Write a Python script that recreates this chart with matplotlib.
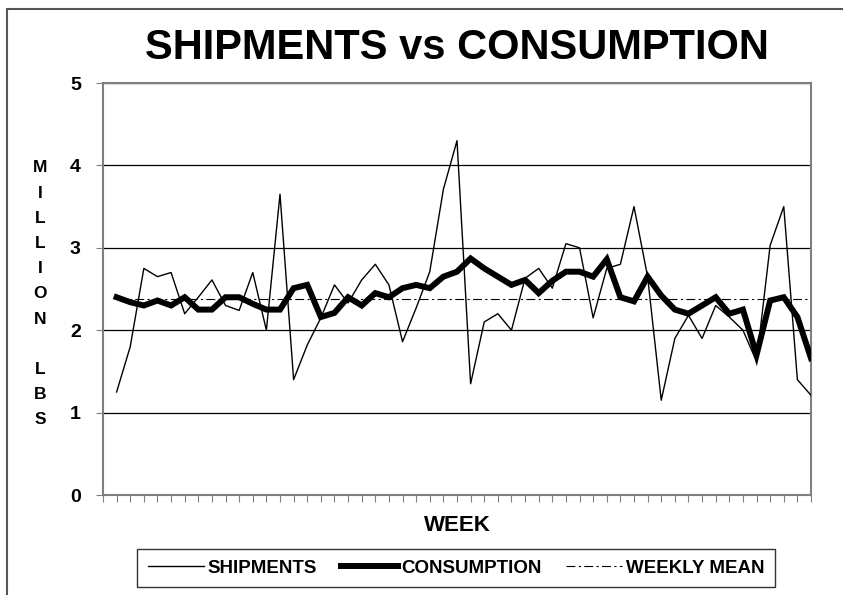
import numpy as np
import matplotlib.pyplot as plt
from matplotlib.patches import Rectangle

plt.rcParams['font.family'] = ['Liberation Sans', 'DejaVu Sans']
plt.rcParams['font.weight'] = 'bold'

# weekly data, million lbs
weeks = list(range(1, 53))
shipments = [1.25, 1.80, 2.75, 2.65, 2.70, 2.20, 2.40, 2.61, 2.30, 2.24,
             2.70, 2.00, 3.65, 1.40, 1.82, 2.15, 2.55, 2.33, 2.61, 2.80,
             2.55, 1.86, 2.27, 2.71, 3.71, 4.30, 1.35, 2.10, 2.20, 2.00,
             2.63, 2.75, 2.51, 3.05, 3.00, 2.15, 2.75, 2.80, 3.50, 2.65,
             1.15, 1.90, 2.18, 1.90, 2.30, 2.16, 2.00, 1.62, 3.03, 3.50,
             1.40, 1.21]
consumption = [2.40, 2.34, 2.30, 2.36, 2.30, 2.40, 2.25, 2.25, 2.40, 2.40,
               2.32, 2.25, 2.25, 2.51, 2.55, 2.16, 2.21, 2.40, 2.30, 2.45,
               2.40, 2.51, 2.55, 2.51, 2.65, 2.71, 2.87, 2.75, 2.65, 2.55,
               2.61, 2.45, 2.60, 2.71, 2.71, 2.65, 2.86, 2.40, 2.35, 2.65,
               2.42, 2.25, 2.20, 2.30, 2.40, 2.20, 2.25, 1.70, 2.36, 2.40,
               2.16, 1.66]
weekly_mean = 2.38
y_ticks = [0, 1, 2, 3, 4, 5]

fig = plt.figure(figsize=(8.43, 5.95), dpi=100)
ax = fig.add_axes([103 / 843, 1 - 495 / 595, 708 / 843, 412 / 595])

# outer chart border
fig.patches.append(Rectangle((7 / 843, -0.1), 1.2, 1 - 9 / 595 + 0.1,
                             transform=fig.transFigure, fill=False,
                             edgecolor='#555555', lw=1.5))

ax.plot(weeks, shipments, color='black', lw=1.0, label='SHIPMENTS', zorder=3)
ax.plot(weeks, consumption, color='black', lw=4.3, label='CONSUMPTION',
        solid_joinstyle='miter', zorder=4)
ax.hlines(weekly_mean, weeks[0], weeks[-1], color='black', lw=0.8,
          linestyles=[(0, (8, 3, 2, 3))], label='WEEKLY MEAN', zorder=2)

ax.set_xlim(0, 52)
ax.set_ylim(0, 5)
ax.set_yticks(y_ticks)
ax.set_xticks(range(0, 53))
ax.set_xticklabels([])
ax.grid(axis='y', color='black', lw=0.9)
ax.set_axisbelow(True)
for s in ax.spines.values():
    s.set_color('#808080')
    s.set_linewidth(1.5)
ax.tick_params(axis='y', direction='out', length=5, color='#808080',
               labelsize=14, pad=11)
ax.tick_params(axis='x', direction='out', length=5, color='#808080')

ax.set_title('SHIPMENTS vs CONSUMPTION', fontsize=30, fontweight='bold', pad=17)
ax.set_xlabel('WEEK', fontsize=16, fontweight='bold', labelpad=6)

fig.text(40 / 843, 1 - 294 / 595, '\n'.join('MILLION LBS'),
         ha='center', va='center', fontsize=12.5, fontweight='bold',
         linespacing=1.85)

leg = fig.legend(loc='center', bbox_to_anchor=(456 / 843, 1 - 568 / 595),
                 ncol=3, fontsize=13.5, frameon=True, fancybox=False,
                 edgecolor='black', handlelength=3.0, handletextpad=0.2,
                 columnspacing=1.3, borderpad=0.55)
leg.get_frame().set_linewidth(1.0)

fig.savefig('out.png', dpi=100)
